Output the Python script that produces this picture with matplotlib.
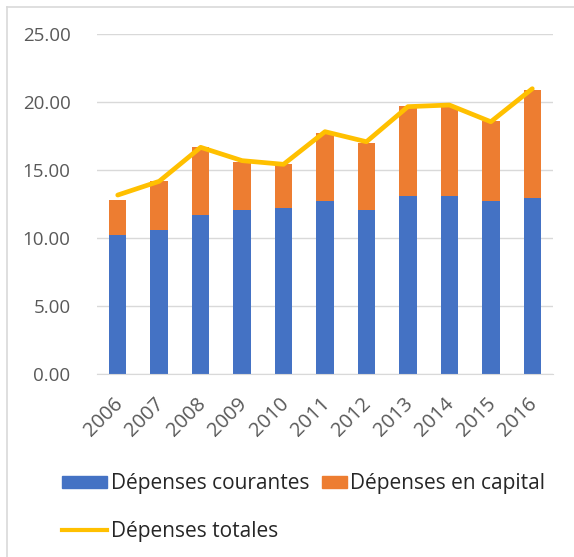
import matplotlib.pyplot as plt
import matplotlib.transforms as mtransforms
from matplotlib.lines import Line2D
from matplotlib.patches import Patch, Rectangle
from matplotlib.legend_handler import HandlerPatch

years = ["2006", "2007", "2008", "2009", "2010", "2011",
         "2012", "2013", "2014", "2015", "2016"]
courantes = [10.22, 10.61, 11.71, 12.10, 12.21, 12.72, 12.10, 13.09, 13.09, 12.72, 12.96]
capital = [2.62, 3.60, 5.03, 3.49, 3.28, 5.00, 4.89, 6.64, 6.64, 5.88, 7.92]
totales = [13.18, 14.19, 16.69, 15.71, 15.44, 17.84, 17.10, 19.68, 19.80, 18.57, 21.00]

BLUE = "#4472c4"
ORANGE = "#ed7d31"
GOLD = "#ffc000"
GREY_TXT = "#595959"
GRID = "#d9d9d9"

plt.rcParams["font.family"] = ["Open Sans", "DejaVu Sans"]

fig = plt.figure(figsize=(5.74, 5.57), dpi=100)
ax = fig.add_axes([97 / 574, 1 - 374.3 / 557, 456 / 574, (374.3 - 34.3) / 557])

x = list(range(len(years)))
ax.bar(x, courantes, width=0.42, color=BLUE, zorder=2)
ax.bar(x, capital, width=0.42, bottom=courantes, color=ORANGE, zorder=2)
ax.plot(x, totales, color=GOLD, lw=3.4, solid_capstyle="round", zorder=3)

ax.set_xlim(-0.5, len(years) - 0.5)
ax.set_ylim(0, 25)
ax.set_yticks([0, 5, 10, 15, 20, 25])
ax.set_yticklabels([f"{v:.2f}" for v in [0, 5, 10, 15, 20, 25]])
ax.set_xticks(x)
ax.set_xticklabels(years, rotation=45, ha="right", rotation_mode="anchor")
ax.tick_params(axis="both", length=0, colors=GREY_TXT)
ax.tick_params(axis="y", pad=19, labelsize=13.5)
ax.tick_params(axis="x", pad=14, labelsize=14.5)
shift = mtransforms.ScaledTranslation(-5 / 100, 0, fig.dpi_scale_trans)
for lbl in ax.get_xticklabels():
    lbl.set_transform(lbl.get_transform() + shift)
ax.yaxis.grid(True, color=GRID, lw=1, zorder=0)
for s in ["top", "right", "left"]:
    ax.spines[s].set_visible(False)
ax.spines["bottom"].set_color(GRID)

# chart frame (left and top edges)
fig.add_artist(Line2D([7 / 574, 7 / 574], [0, 1 - 7 / 557], color=GRID, lw=1.2))
fig.add_artist(Line2D([7 / 574, 1], [1 - 7 / 557, 1 - 7 / 557], color=GRID, lw=1.2))


def short_patch(legend, orig_handle, xdescent, ydescent, width, height, fontsize):
    w = width * 0.55
    return Rectangle((-xdescent + width - w, -ydescent), w, height)


cap_handle = Patch(color=ORANGE)
handles = [Patch(color=BLUE), Line2D([], [], color=GOLD, lw=3.0), cap_handle]
labels = ["Dépenses courantes", "Dépenses totales", "Dépenses en capital"]
fig.legend(handles, labels, ncol=2, loc="upper left", bbox_to_anchor=(52 / 574, 1 - 463 / 557),
           frameon=False, fontsize=15, handlelength=2.16, handleheight=0.48, borderpad=0,
           handletextpad=0.15, columnspacing=-0.35, labelspacing=1.28, labelcolor="#262626",
           handler_map={cap_handle: HandlerPatch(patch_func=short_patch)})

fig.savefig("out.png", dpi=100, facecolor="white")
